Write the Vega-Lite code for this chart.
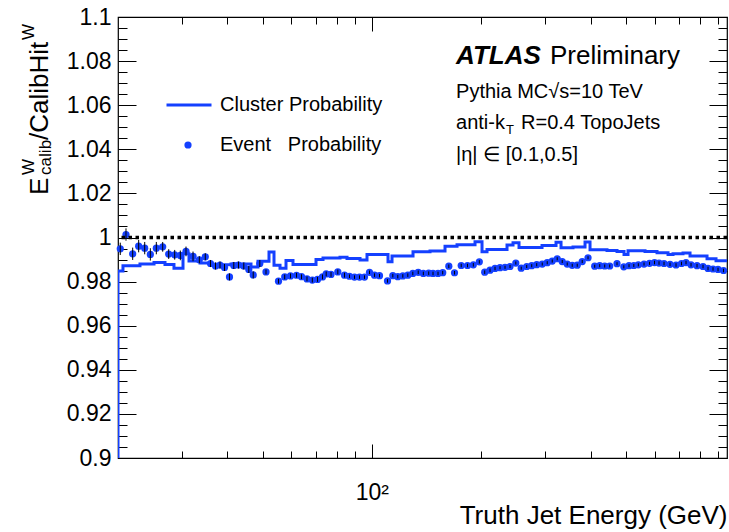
{
  "$schema": "https://vega.github.io/schema/vega-lite/v6.json",
  "width": 609,
  "height": 441,
  "padding": {"left": 118, "top": 17, "right": 2, "bottom": 74},
  "autosize": {"type": "none"},
  "background": "white",
  "config": {
    "font": "Liberation Sans",
    "view": {"stroke": "black", "strokeWidth": 1.2},
    "axis": {"grid": false, "domain": false, "tickColor": "black", "labelColor": "black", "titleColor": "black", "labelFont": "Liberation Sans", "titleFont": "Liberation Sans"},
    "legend": {"labelFont": "Liberation Sans", "labelColor": "black"}
  },
  "datasets": {
    "event": [
      {"E": 20.29, "r": 0.99486, "err": 0.0028},
      {"E": 21.04, "r": 1.00135, "err": 0.0028},
      {"E": 21.95, "r": 0.99261, "err": 0.0028},
      {"E": 22.80, "r": 0.99608, "err": 0.0028},
      {"E": 23.69, "r": 0.99518, "err": 0.0028},
      {"E": 24.55, "r": 0.99234, "err": 0.0028},
      {"E": 25.50, "r": 0.99518, "err": 0.0028},
      {"E": 26.55, "r": 0.99577, "err": 0.0022},
      {"E": 27.58, "r": 0.99248, "err": 0.0022},
      {"E": 28.65, "r": 0.99216, "err": 0.0022},
      {"E": 29.69, "r": 0.99189, "err": 0.0022},
      {"E": 30.78, "r": 0.99369, "err": 0.0022},
      {"E": 32.18, "r": 0.99144, "err": 0.0022},
      {"E": 33.49, "r": 0.98991, "err": 0.0016},
      {"E": 34.78, "r": 0.99126, "err": 0.0016},
      {"E": 35.95, "r": 0.98820, "err": 0.0016},
      {"E": 37.11, "r": 0.98707, "err": 0.0016},
      {"E": 38.18, "r": 0.98752, "err": 0.0016},
      {"E": 39.29, "r": 0.98640, "err": 0.0016},
      {"E": 40.55, "r": 0.98212, "err": 0.0016},
      {"E": 41.67, "r": 0.98730, "err": 0.0016},
      {"E": 42.93, "r": 0.98752, "err": 0.0016},
      {"E": 44.40, "r": 0.98707, "err": 0.0016},
      {"E": 45.83, "r": 0.98550, "err": 0.0016},
      {"E": 47.13, "r": 0.98302, "err": 0.0016},
      {"E": 49.14, "r": 0.98820, "err": 0.0016},
      {"E": 51.11, "r": 0.98437, "err": 0.0011},
      {"E": 55.33, "r": 0.98018, "err": 0.0011},
      {"E": 57.55, "r": 0.98212, "err": 0.0011},
      {"E": 59.70, "r": 0.98257, "err": 0.0011},
      {"E": 62.02, "r": 0.98288, "err": 0.0011},
      {"E": 64.01, "r": 0.98221, "err": 0.0011},
      {"E": 66.28, "r": 0.98122, "err": 0.0011},
      {"E": 68.55, "r": 0.98068, "err": 0.0011},
      {"E": 70.85, "r": 0.98099, "err": 0.0011},
      {"E": 73.13, "r": 0.98212, "err": 0.0011},
      {"E": 74.86, "r": 0.98347, "err": 0.0011},
      {"E": 77.18, "r": 0.98324, "err": 0.0011},
      {"E": 80.58, "r": 0.98437, "err": 0.0011},
      {"E": 84.07, "r": 0.98293, "err": 0.0011},
      {"E": 86.78, "r": 0.98243, "err": 0.0008},
      {"E": 89.58, "r": 0.98203, "err": 0.0008},
      {"E": 92.46, "r": 0.98203, "err": 0.0008},
      {"E": 95.44, "r": 0.98203, "err": 0.0008},
      {"E": 98.51, "r": 0.98423, "err": 0.0008},
      {"E": 101.69, "r": 0.98293, "err": 0.0008},
      {"E": 104.96, "r": 0.98270, "err": 0.0008},
      {"E": 110.42, "r": 0.98032, "err": 0.0008},
      {"E": 114.20, "r": 0.98270, "err": 0.0008},
      {"E": 117.87, "r": 0.98225, "err": 0.0008},
      {"E": 121.67, "r": 0.98257, "err": 0.0008},
      {"E": 125.59, "r": 0.98293, "err": 0.0008},
      {"E": 129.63, "r": 0.98369, "err": 0.0008},
      {"E": 134.15, "r": 0.98423, "err": 0.0008},
      {"E": 138.56, "r": 0.98369, "err": 0.0008},
      {"E": 143.38, "r": 0.98383, "err": 0.0008},
      {"E": 147.34, "r": 0.98369, "err": 0.0008},
      {"E": 152.09, "r": 0.98369, "err": 0.0008},
      {"E": 156.69, "r": 0.98405, "err": 0.0008},
      {"E": 162.87, "r": 0.98698, "err": 0.0008},
      {"E": 168.86, "r": 0.98401, "err": 0.0008},
      {"E": 176.19, "r": 0.98730, "err": 0.0008},
      {"E": 183.37, "r": 0.98730, "err": 0.0008},
      {"E": 190.24, "r": 0.98761, "err": 0.0008},
      {"E": 197.61, "r": 0.98896, "err": 0.0008},
      {"E": 204.49, "r": 0.98428, "err": 0.0008},
      {"E": 211.48, "r": 0.98518, "err": 0.0008},
      {"E": 218.29, "r": 0.98595, "err": 0.0008},
      {"E": 225.32, "r": 0.98631, "err": 0.0007},
      {"E": 232.58, "r": 0.98649, "err": 0.0007},
      {"E": 240.07, "r": 0.98685, "err": 0.0007},
      {"E": 249.06, "r": 0.98842, "err": 0.0007},
      {"E": 257.74, "r": 0.98608, "err": 0.0007},
      {"E": 266.88, "r": 0.98685, "err": 0.0007},
      {"E": 275.48, "r": 0.98721, "err": 0.0007},
      {"E": 284.35, "r": 0.98766, "err": 0.0007},
      {"E": 294.44, "r": 0.98797, "err": 0.0007},
      {"E": 303.92, "r": 0.98856, "err": 0.0007},
      {"E": 313.71, "r": 0.98932, "err": 0.0007},
      {"E": 323.81, "r": 0.99036, "err": 0.0007},
      {"E": 334.24, "r": 0.98910, "err": 0.0007},
      {"E": 345.01, "r": 0.98797, "err": 0.0007},
      {"E": 356.12, "r": 0.98739, "err": 0.0007},
      {"E": 367.59, "r": 0.98743, "err": 0.0007},
      {"E": 379.43, "r": 0.98910, "err": 0.0007},
      {"E": 393.65, "r": 0.99081, "err": 0.0007},
      {"E": 410.72, "r": 0.98698, "err": 0.0007},
      {"E": 423.95, "r": 0.98721, "err": 0.0007},
      {"E": 437.60, "r": 0.98707, "err": 0.0007},
      {"E": 451.70, "r": 0.98707, "err": 0.0007},
      {"E": 473.09, "r": 0.98811, "err": 0.0007},
      {"E": 493.93, "r": 0.98671, "err": 0.0007},
      {"E": 510.49, "r": 0.98721, "err": 0.0007},
      {"E": 526.26, "r": 0.98730, "err": 0.0007},
      {"E": 541.49, "r": 0.98761, "err": 0.0007},
      {"E": 561.42, "r": 0.98797, "err": 0.0007},
      {"E": 581.34, "r": 0.98829, "err": 0.0007},
      {"E": 600.06, "r": 0.98865, "err": 0.0008},
      {"E": 617.42, "r": 0.98842, "err": 0.0008},
      {"E": 637.31, "r": 0.98820, "err": 0.0008},
      {"E": 662.02, "r": 0.98784, "err": 0.0008},
      {"E": 687.68, "r": 0.98752, "err": 0.0008},
      {"E": 712.09, "r": 0.98820, "err": 0.0008},
      {"E": 732.69, "r": 0.98865, "err": 0.0008},
      {"E": 756.29, "r": 0.98761, "err": 0.0008},
      {"E": 785.61, "r": 0.98721, "err": 0.0008},
      {"E": 816.07, "r": 0.98685, "err": 0.0008},
      {"E": 842.35, "r": 0.98595, "err": 0.0008},
      {"E": 869.48, "r": 0.98572, "err": 0.0008},
      {"E": 897.48, "r": 0.98550, "err": 0.0008},
      {"E": 929.34, "r": 0.98504, "err": 0.0008}
    ],
    "cluster": [
      {"k": 0, "E": 20, "r": 0.9},
      {"k": 1, "E": 20, "r": 0.9848},
      {"k": 2, "E": 20.64, "r": 0.9872},
      {"k": 3, "E": 22.99, "r": 0.9880},
      {"k": 4, "E": 25.13, "r": 0.9887},
      {"k": 5, "E": 26.94, "r": 0.9877},
      {"k": 6, "E": 28.52, "r": 0.9860},
      {"k": 7, "E": 30.20, "r": 0.9926},
      {"k": 8, "E": 31.37, "r": 0.9893},
      {"k": 9, "E": 33.64, "r": 0.9884},
      {"k": 10, "E": 35.84, "r": 0.9876},
      {"k": 11, "E": 40.94, "r": 0.9880},
      {"k": 12, "E": 46.47, "r": 0.9866},
      {"k": 13, "E": 48.58, "r": 0.9892},
      {"k": 14, "E": 52.09, "r": 0.9934},
      {"k": 15, "E": 53.77, "r": 0.9874},
      {"k": 16, "E": 55.86, "r": 0.9860},
      {"k": 17, "E": 58.02, "r": 0.9896},
      {"k": 18, "E": 60.65, "r": 0.9878},
      {"k": 19, "E": 70.18, "r": 0.9900},
      {"k": 20, "E": 73.36, "r": 0.9907},
      {"k": 21, "E": 81.71, "r": 0.9910},
      {"k": 22, "E": 85.42, "r": 0.9905},
      {"k": 23, "E": 92.76, "r": 0.9898},
      {"k": 24, "E": 96.96, "r": 0.9923},
      {"k": 25, "E": 110.77, "r": 0.9890},
      {"k": 26, "E": 113.62, "r": 0.9916},
      {"k": 27, "E": 129.80, "r": 0.9935},
      {"k": 28, "E": 144.57, "r": 0.9939},
      {"k": 29, "E": 158.99, "r": 0.9960},
      {"k": 30, "E": 171.56, "r": 0.9967},
      {"k": 31, "E": 192.30, "r": 0.9981},
      {"k": 32, "E": 201.02, "r": 0.9935},
      {"k": 33, "E": 207.50, "r": 0.9946},
      {"k": 34, "E": 235.54, "r": 0.9966},
      {"k": 35, "E": 244.68, "r": 0.9976},
      {"k": 36, "E": 254.16, "r": 0.9955},
      {"k": 37, "E": 294.06, "r": 0.9964},
      {"k": 38, "E": 321.35, "r": 0.9978},
      {"k": 39, "E": 331.71, "r": 0.9953},
      {"k": 40, "E": 357.93, "r": 0.9957},
      {"k": 41, "E": 386.23, "r": 0.9980},
      {"k": 42, "E": 398.67, "r": 0.9944},
      {"k": 43, "E": 444.00, "r": 0.9941},
      {"k": 44, "E": 473.09, "r": 0.9937},
      {"k": 45, "E": 494.56, "r": 0.9923},
      {"k": 46, "E": 507.26, "r": 0.9940},
      {"k": 47, "E": 564.98, "r": 0.9936},
      {"k": 48, "E": 609.62, "r": 0.9931},
      {"k": 49, "E": 653.68, "r": 0.9923},
      {"k": 50, "E": 674.72, "r": 0.9926},
      {"k": 51, "E": 718.88, "r": 0.9930},
      {"k": 52, "E": 751.52, "r": 0.9916},
      {"k": 53, "E": 837.02, "r": 0.9904},
      {"k": 54, "E": 886.18, "r": 0.9895},
      {"k": 55, "E": 950, "r": 0.9895}
    ],
    "one": [{}]
  },
  "layer": [
    {
      "data": {"name": "cluster"},
      "mark": {"type": "line", "interpolate": "step-after", "strokeWidth": 3, "clip": true},
      "encoding": {
        "x": {
          "field": "E", "type": "quantitative",
          "scale": {"type": "log", "domain": [20, 950], "nice": false},
          "axis": {
            "orient": "bottom",
            "values": [30, 40, 50, 60, 70, 80, 90, 100, 200, 300, 400, 500, 600, 700, 800, 900],
            "tickSize": {"condition": {"test": "datum.value == 100", "value": -14}, "value": -7},
            "labelExpr": "datum.value == 100 ? '10²' : ''",
            "labelFontSize": 23,
            "labelPadding": 37,
            "labelDx": -4,
            "labelFlush": false,
            "labelOverlap": false,
            "labelBound": false,
            "title": "Truth Jet Energy (GeV)",
            "titleAnchor": "end",
            "titleFontSize": 26,
            "titleFontWeight": "normal",
            "titlePadding": -9
          }
        },
        "y": {
          "field": "r", "type": "quantitative",
          "scale": {"domain": [0.9, 1.1], "nice": false, "zero": false},
          "axis": {
            "orient": "left",
            "values": [0.9, 0.905, 0.91, 0.915, 0.92, 0.925, 0.93, 0.935, 0.94, 0.945, 0.95, 0.955, 0.96, 0.965, 0.97, 0.975, 0.98, 0.985, 0.99, 0.995, 1.0, 1.005, 1.01, 1.015, 1.02, 1.025, 1.03, 1.035, 1.04, 1.045, 1.05, 1.055, 1.06, 1.065, 1.07, 1.075, 1.08, 1.085, 1.09, 1.095, 1.1],
            "format": "~g",
            "tickSize": {"condition": {"test": "abs(datum.value * 50 - round(datum.value * 50)) < 0.001", "value": -18}, "value": -9},
            "labelExpr": "abs(datum.value * 50 - round(datum.value * 50)) < 0.001 ? datum.label : ''",
            "labelFontSize": 23,
            "labelPadding": 25,
            "labelFlush": false,
            "labelOverlap": false,
            "labelBound": false,
            "title": null
          }
        },
        "order": {"field": "k", "type": "quantitative"},
        "stroke": {
          "datum": "Cluster Probability",
          "scale": {"range": ["#1440ff"]},
          "legend": {
            "orient": "none", "legendX": 47, "legendY": 64,
            "title": null, "padding": 0, "labelLimit": 0,
            "symbolType": "stroke", "symbolSize": 2025, "symbolStrokeWidth": 3,
            "labelFontSize": 20, "labelOffset": 7
          }
        }
      }
    },
    {
      "data": {"name": "event"},
      "mark": {"type": "point", "filled": true, "size": 52, "opacity": 1, "shape": "circle"},
      "encoding": {
        "x": {
          "field": "E", "type": "quantitative",
          "axis": {
            "orient": "top",
            "values": [30, 40, 50, 60, 70, 80, 90, 100, 200, 300, 400, 500, 600, 700, 800, 900],
            "tickSize": {"condition": {"test": "datum.value == 100", "value": -14}, "value": -7},
            "labels": false,
            "title": null
          }
        },
        "y": {
          "field": "r", "type": "quantitative",
          "axis": {
            "orient": "right",
            "values": [0.9, 0.905, 0.91, 0.915, 0.92, 0.925, 0.93, 0.935, 0.94, 0.945, 0.95, 0.955, 0.96, 0.965, 0.97, 0.975, 0.98, 0.985, 0.99, 0.995, 1.0, 1.005, 1.01, 1.015, 1.02, 1.025, 1.03, 1.035, 1.04, 1.045, 1.05, 1.055, 1.06, 1.065, 1.07, 1.075, 1.08, 1.085, 1.09, 1.095, 1.1],
            "tickSize": {"condition": {"test": "abs(datum.value * 50 - round(datum.value * 50)) < 0.001", "value": -18}, "value": -9},
            "labels": false,
            "title": null
          }
        },
        "fill": {
          "datum": "Event\u00a0\u00a0\u00a0Probability",
          "scale": {"range": ["#1440ff"]},
          "legend": {
            "orient": "none", "legendX": 60, "legendY": 118,
            "title": null, "padding": 0, "labelLimit": 0,
            "symbolType": "circle", "symbolSize": 52, "symbolStrokeWidth": 0,
            "labelFontSize": 20, "labelOffset": 22
          }
        }
      }
    },
    {
      "data": {"name": "event"},
      "mark": {"type": "errorbar", "color": "black", "thickness": 1},
      "encoding": {
        "x": {"field": "E", "type": "quantitative", "axis": null},
        "y": {"field": "r", "type": "quantitative", "axis": null},
        "yError": {"field": "err"}
      }
    },
    {
      "data": {"name": "one"},
      "mark": {"type": "rule", "color": "black", "strokeWidth": 3.5, "strokeDash": [3.5, 3.5]},
      "encoding": {"y": {"datum": 1, "type": "quantitative", "axis": null}}
    },
    {
      "data": {"name": "one"},
      "mark": {"type": "text", "text": "ATLAS", "fontSize": 26, "fontWeight": "bold", "fontStyle": "italic", "align": "left", "baseline": "middle", "color": "black"},
      "encoding": {"x": {"datum": 170.5, "type": "quantitative", "axis": null}, "y": {"datum": 1.0825, "type": "quantitative", "axis": null}}
    },
    {
      "data": {"name": "one"},
      "mark": {"type": "text", "text": "Preliminary", "fontSize": 26, "align": "left", "baseline": "middle", "color": "black"},
      "encoding": {"x": {"datum": 309.3, "type": "quantitative", "axis": null}, "y": {"datum": 1.0825, "type": "quantitative", "axis": null}}
    },
    {
      "data": {"name": "one"},
      "mark": {"type": "text", "text": "Pythia MC√s=10 TeV", "fontSize": 20, "align": "left", "baseline": "middle", "color": "black"},
      "encoding": {"x": {"datum": 170.5, "type": "quantitative", "axis": null}, "y": {"datum": 1.0662, "type": "quantitative", "axis": null}}
    },
    {
      "data": {"name": "one"},
      "mark": {"type": "text", "text": "anti-k", "fontSize": 20, "align": "left", "baseline": "middle", "color": "black"},
      "encoding": {"x": {"datum": 170.5, "type": "quantitative", "axis": null}, "y": {"datum": 1.0519, "type": "quantitative", "axis": null}}
    },
    {
      "data": {"name": "one"},
      "mark": {"type": "text", "text": "T", "fontSize": 13, "align": "left", "baseline": "middle", "color": "black"},
      "encoding": {"x": {"datum": 234.1, "type": "quantitative", "axis": null}, "y": {"datum": 1.0487, "type": "quantitative", "axis": null}}
    },
    {
      "data": {"name": "one"},
      "mark": {"type": "text", "text": "R=0.4 TopoJets", "fontSize": 20, "align": "left", "baseline": "middle", "color": "black"},
      "encoding": {"x": {"datum": 257.4, "type": "quantitative", "axis": null}, "y": {"datum": 1.0519, "type": "quantitative", "axis": null}}
    },
    {
      "data": {"name": "one"},
      "mark": {"type": "text", "text": "|η| ∈ [0.1,0.5]", "fontSize": 20, "align": "left", "baseline": "middle", "color": "black"},
      "encoding": {"x": {"datum": 170.5, "type": "quantitative", "axis": null}, "y": {"datum": 1.0374, "type": "quantitative", "axis": null}}
    },
    {
      "data": {"name": "one"},
      "mark": {"type": "text", "text": "E", "fontSize": 26, "angle": 270, "align": "left", "baseline": "alphabetic", "color": "black"},
      "encoding": {"x": {"datum": 12.83, "type": "quantitative", "axis": null}, "y": {"datum": 1.0193, "type": "quantitative", "axis": null}}
    },
    {
      "data": {"name": "one"},
      "mark": {"type": "text", "text": "calib", "fontSize": 17, "angle": 270, "align": "left", "baseline": "alphabetic", "color": "black"},
      "encoding": {"x": {"datum": 13.08, "type": "quantitative", "axis": null}, "y": {"datum": 1.0284, "type": "quantitative", "axis": null}}
    },
    {
      "data": {"name": "one"},
      "mark": {"type": "text", "text": "W", "fontSize": 17, "angle": 270, "align": "left", "baseline": "alphabetic", "color": "black"},
      "encoding": {"x": {"datum": 11.74, "type": "quantitative", "axis": null}, "y": {"datum": 1.0284, "type": "quantitative", "axis": null}}
    },
    {
      "data": {"name": "one"},
      "mark": {"type": "text", "text": "/CalibHit", "fontSize": 26, "angle": 270, "align": "left", "baseline": "alphabetic", "color": "black"},
      "encoding": {"x": {"datum": 12.83, "type": "quantitative", "axis": null}, "y": {"datum": 1.0442, "type": "quantitative", "axis": null}}
    },
    {
      "data": {"name": "one"},
      "mark": {"type": "text", "text": "W", "fontSize": 17, "angle": 270, "align": "left", "baseline": "alphabetic", "color": "black"},
      "encoding": {"x": {"datum": 11.74, "type": "quantitative", "axis": null}, "y": {"datum": 1.0896, "type": "quantitative", "axis": null}}
    }
  ]
}
